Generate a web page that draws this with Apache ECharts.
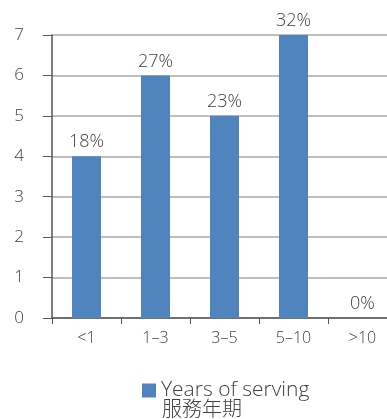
<!DOCTYPE html>
<html>
<head>
<meta charset="utf-8">
<style>
html,body{margin:0;padding:0;background:#fff;}
#c{width:387px;height:419px;}
</style>
<script src="https://cdn.jsdelivr.net/npm/echarts@6/dist/echarts.min.js"></script>
</head>
<body>
<div id="c"></div>
<script>
var categories = ['<1', '1–3', '3–5', '5–10', '>10'];
var counts = [4, 6, 5, 7, 0];
var percents = ['18%', '27%', '23%', '32%', '0%'];
var yTicks = [0, 1, 2, 3, 4, 5, 6, 7];
var seriesName = 'Years of serving';
var seriesNameZh = '服務年期';

var chart = echarts.init(document.getElementById('c'), null, {renderer: 'canvas'});
var font = '"Open Sans", "Noto Sans CJK TC", sans-serif';
var txt = '#404040';
chart.setOption({
  animation: false,
  textStyle: {fontFamily: font},
  grid: {left: 52, top: 35, bottom: 101, width: 345, containLabel: false, outerBoundsMode: 'none'},
  xAxis: {
    type: 'category',
    data: categories,
    axisLine: {lineStyle: {color: '#555', width: 1.5}},
    axisTick: {show: true, length: 6, lineStyle: {color: '#555'}},
    axisLabel: {color: txt, fontSize: 16, fontWeight: 300, margin: 12, fontFamily: font}
  },
  yAxis: {
    type: 'value',
    min: yTicks[0],
    max: yTicks[yTicks.length - 1],
    interval: 1,
    axisLine: {show: true, lineStyle: {color: '#555', width: 1.5}},
    axisTick: {show: true, length: 9, lineStyle: {color: '#555'}},
    axisLabel: {color: txt, fontSize: 17, fontWeight: 300, margin: 28, fontFamily: font},
    splitLine: {lineStyle: {color: '#a8a8a8', width: 1.5}}
  },
  legend: {
    show: true,
    left: 137,
    top: 375,
    icon: 'rect',
    itemWidth: 14,
    itemHeight: 14,
    itemGap: 10,
    textStyle: {color: txt, fontSize: 21, fontWeight: 300, fontFamily: font},
    data: [seriesName]
  },
  graphic: [{
    type: 'text',
    left: 162,
    top: 398,
    style: {text: seriesNameZh, fill: txt, font: '300 20px "Noto Sans CJK TC", sans-serif'}
  }],
  series: [{
    name: seriesName,
    type: 'bar',
    data: counts,
    barWidth: 29,
    itemStyle: {color: '#5084BE'},
    label: {
      show: true,
      position: 'top',
      distance: 5,
      color: txt,
      fontSize: 18,
      fontWeight: 300,
      fontFamily: font,
      formatter: function (p) { return percents[p.dataIndex]; }
    }
  }]
});
</script>
</body>
</html>
